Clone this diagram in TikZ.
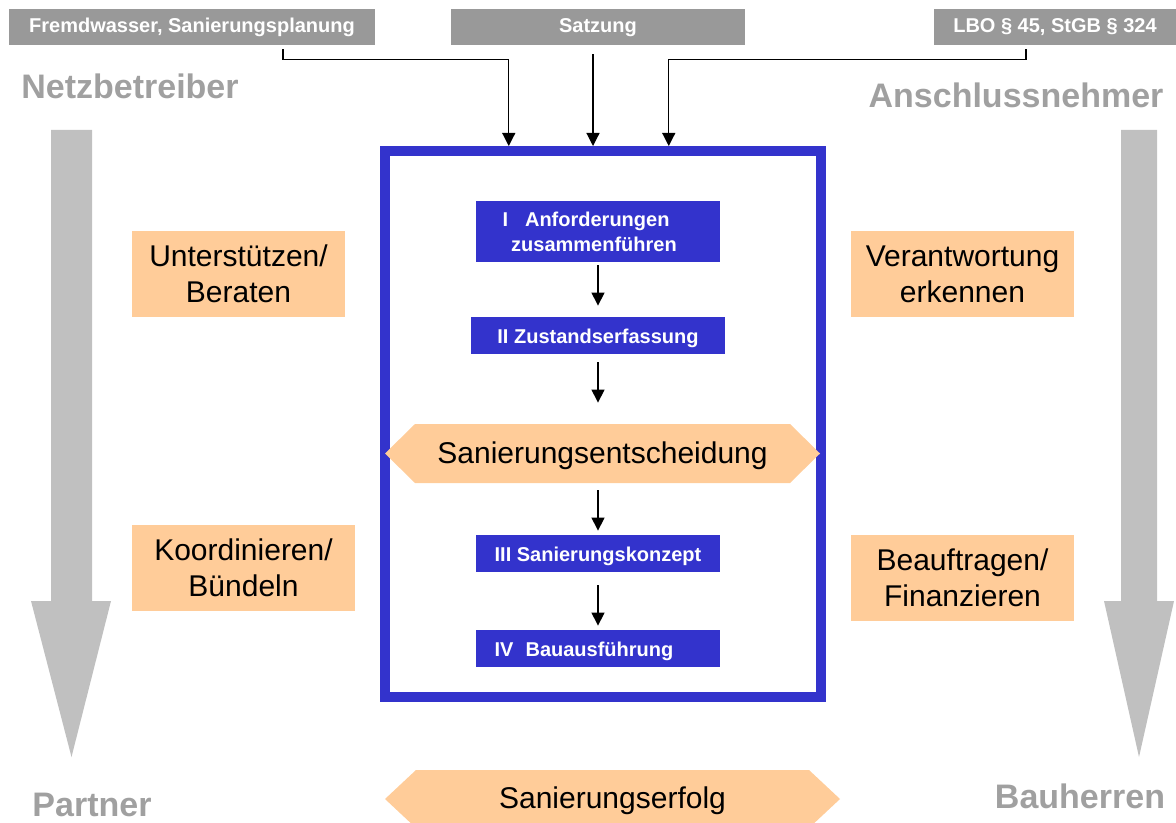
\documentclass[tikz,border=0pt]{standalone}
\usepackage{fontspec}
\setmainfont{Liberation Sans}
\usepackage{tikz}
\usetikzlibrary{arrows.meta}
\usetikzlibrary{positioning}
\definecolor{boxgray}{RGB}{153,153,153}
\definecolor{labelgray}{RGB}{160,160,160}
\definecolor{arrowgray}{RGB}{192,192,192}
\definecolor{peach}{RGB}{255,204,153}
\definecolor{stepblue}{RGB}{51,51,204}
\tikzstyle{topbox}=[fill=boxgray,text=white,font=\bfseries\fontsize{10}{12}\selectfont,minimum height=18pt,inner sep=0pt,text height=8pt,text depth=2pt]
\tikzstyle{side}=[text=labelgray,font=\bfseries\fontsize{17}{20}\selectfont,inner sep=0pt]
\tikzstyle{task}=[fill=peach,align=center,font=\fontsize{15}{18}\selectfont,minimum height=43pt,inner sep=0pt]
\tikzstyle{hextext}=[font=\fontsize{15}{18}\selectfont,inner sep=0pt,text height=11.5pt,text depth=2pt]
\tikzstyle{stepbox}=[fill=stepblue,text=white,font=\bfseries\fontsize{10}{12.5}\selectfont,align=center,minimum width=122pt,minimum height=18.5pt,inner sep=0pt]
\tikzstyle{steptext}=[text height=9.5pt,text depth=1.5pt]
\tikzstyle{conn}=[-{Triangle[length=6.5pt,width=6.5pt]},line width=0.6pt]

\begin{document}
\begin{tikzpicture}[x=0.5pt,y=-0.5pt]
\useasboundingbox (0,0) rectangle (1176,823);
% sources
\node[topbox,minimum width=183pt] (fw) at (192,27) {Fremdwasser, Sanierungsplanung};
\node[topbox,minimum width=147pt] (sa) at (598,27) {Satzung};
\node[topbox,minimum width=121pt] (lbo) at (1055,27) {LBO § 45, StGB § 324};
% roles
\node[side] (nb) at (130,86) {Netzbetreiber};
\node[side] (an) at (1016,95) {Anschlussnehmer};
\node[side] (pa) at (92,805) {Partner};
\node[side] (bh) at (1080,796) {Bauherren};
\fill[arrowgray] (51,130) -- (92,130) -- (92,601) -- (111,601) -- (71.5,757) -- (31,601) -- (51,601) -- cycle;
\fill[arrowgray] (1121,130) -- (1157,130) -- (1157,601) -- (1174,601) -- (1139,757) -- (1104,601) -- (1121,601) -- cycle;
\node[task,minimum width=106.5pt] (u) at (238.5,274) {Unterstützen/\\Beraten};
\node[task,minimum width=111.5pt] (k) at (243.5,568) {Koordinieren/\\Bündeln};
\node[task,minimum width=111.5pt] (v) at (962.5,274) {Verantwortung\\erkennen};
\node[task,minimum width=111.5pt] (be) at (962.5,578) {Beauftragen/\\Finanzieren};
% process
\node[draw=stepblue,line width=5pt,minimum width=217.75pt,minimum height=273pt,inner sep=0pt] (frame) at (602.75,424) {};
\node[stepbox,minimum height=30.5pt,text height=21pt,text depth=0.5pt] (s1) at (598,231.5) {I\hspace{8.5pt}Anforderungen\hspace*{12pt}\\zusammenführen\hspace*{4pt}};
\node[stepbox,steptext,minimum width=127pt] (s2) at (598,335.5) {II Zustandserfassung};
\fill[peach] (385,453.5) -- (415,424) -- (790,424) -- (820,453.5) -- (790,483) -- (415,483) -- cycle;
\node[hextext,minimum width=187.5pt,minimum height=29.5pt] (hx) at (602.5,453.5) {Sanierungsentscheidung};
\node[stepbox,steptext] (s3) at (598,553.5) {III Sanierungskonzept};
\node[stepbox,steptext] (s4) at (598,648.5) {IV\hspace{6pt}Bauausführung\hspace*{14pt}};
\fill[peach] (385,799) -- (416,770) -- (809,770) -- (840,799) -- (809,828) -- (416,828) -- cycle;
\node[hextext,minimum width=196.5pt,minimum height=29pt] (se) at (612.5,799) {Sanierungserfolg};
\draw[conn,shorten <=1.5pt,shorten >=5.5pt] (s1) -- (s2);
\draw[conn,shorten <=4pt,shorten >=10.5pt] (s2) -- (s2 |- hx.north);
\draw[conn,shorten <=3.5pt,shorten >=2pt] (s2 |- hx.south) -- (s3);
\draw[conn,shorten <=6.5pt,shorten >=2pt] (s3) -- (s4);
% inputs
\draw[conn,shorten <=2pt] ([xshift=45.5pt]fw.south) -- ++(0,14) -| ([xshift=-47pt]frame.north);
\draw[conn,shorten <=4.5pt] ([xshift=-2.5pt]sa.south) -- ([xshift=-2.5pt]sa.south |- frame.north);
\draw[conn,shorten <=2pt] ([xshift=-14.5pt]lbo.south) -- ++(0,14) -| ([xshift=33pt]frame.north);
\end{tikzpicture}
\end{document}
